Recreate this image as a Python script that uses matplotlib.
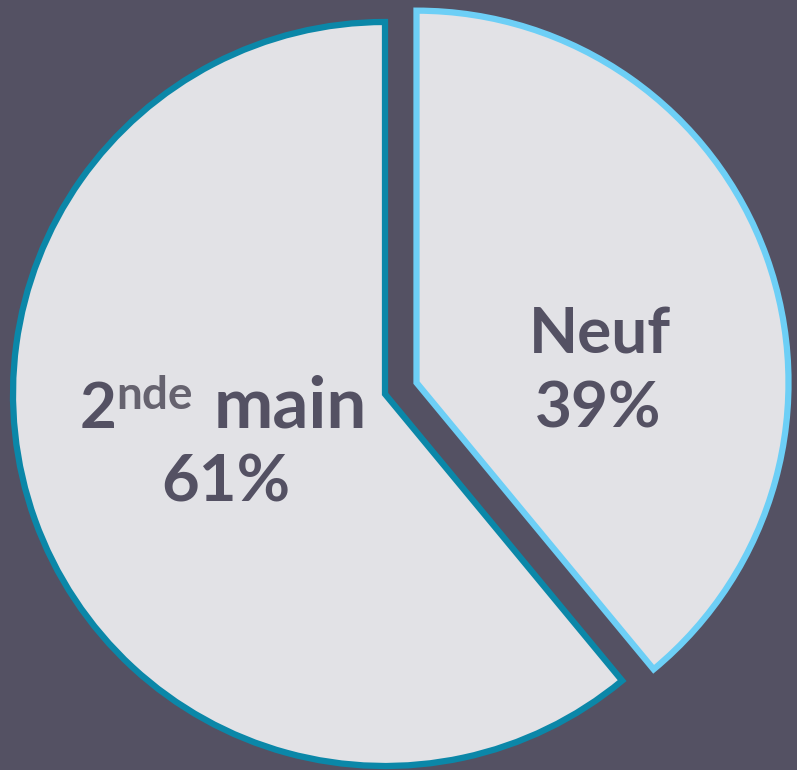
"""Camembert : répartition neuf / seconde main."""

import matplotlib.pyplot as plt

labels = ["Neuf", "2nde main"]
shares = [39, 61]
edge_colors = ["#6dcff6", "#0b87a8"]
explode = [0.09, 0.0]

BG = "#545163"
FILL = "#e2e2e6"
TXT = "#545163"
FONT = "Lato"

fig = plt.figure(figsize=(7.97, 7.70), dpi=100)
fig.patch.set_facecolor(BG)
ax = fig.add_axes([0, 0, 1, 1])
ax.set_facecolor(BG)

# pie radius 1 ~ 372 px, centre at (385, 394) px from top-left
R = 372.0
CX, CY = 385.0, 394.0


def px(x, y):
    return (x - CX) / R, (CY - y) / R


wedges, _ = ax.pie(shares, startangle=90, counterclock=False, explode=explode,
                   colors=[FILL, FILL], radius=1.0,
                   wedgeprops=dict(linewidth=4.5, joinstyle="miter"))
for w, ec in zip(wedges, edge_colors):
    w.set_edgecolor(ec)

ax.set_xlim(px(0, 0)[0], px(797, 0)[0])
ax.set_ylim(px(0, 770)[1], px(0, 0)[1])
ax.set_aspect("auto")
ax.axis("off")

kw = dict(color=TXT, fontweight="bold", family=FONT)

# Neuf 39%
ax.text(*px(600, 353), labels[0], ha="center", va="baseline", fontsize=46, **kw)
ax.text(*px(598, 428), f"{shares[0]}%", ha="center", va="baseline", fontsize=46, **kw)

# 2nde main 61%
ax.text(*px(80, 428), "2", ha="left", va="baseline", fontsize=46, **kw)
ax.text(*px(116, 409), "nde", ha="left", va="baseline", fontsize=33,
        color="#66636f", fontweight="bold", family=FONT)
ax.text(*px(214, 428), "main", ha="left", va="baseline", fontsize=51, **kw)
ax.text(*px(226, 502), f"{shares[1]}%", ha="center", va="baseline", fontsize=47, **kw)

fig.savefig("out.png", dpi=100, facecolor=BG)
